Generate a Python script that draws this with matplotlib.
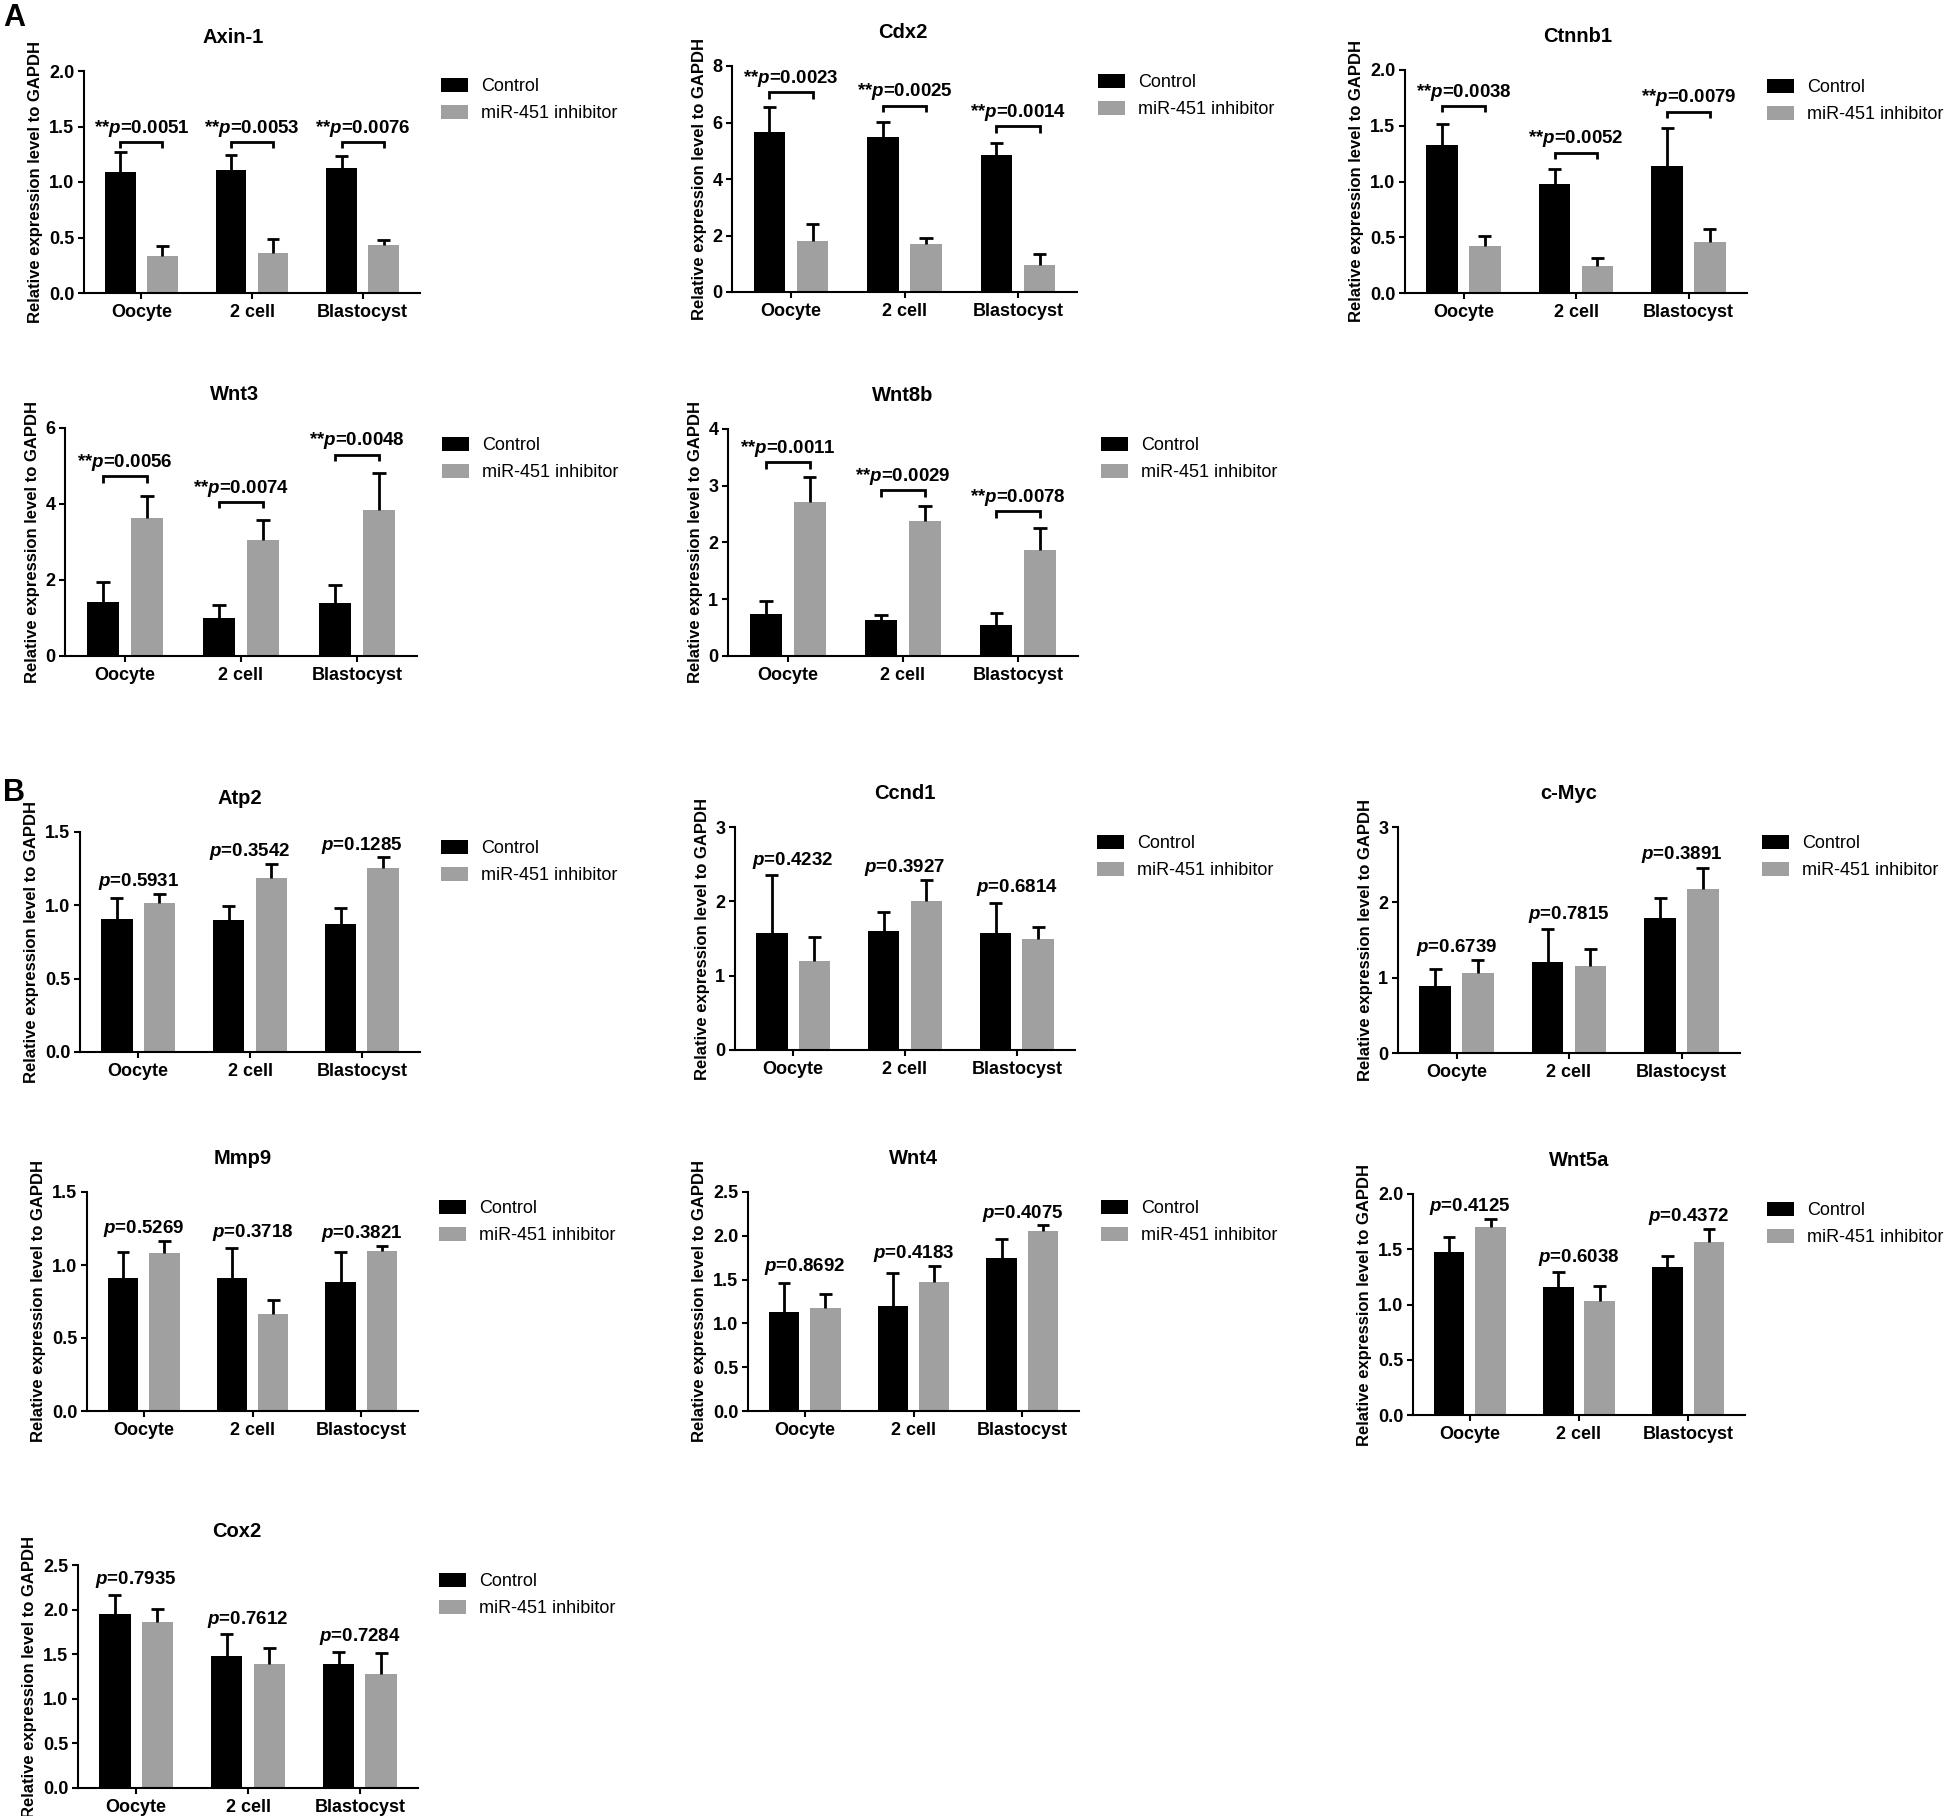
import matplotlib
matplotlib.use('Agg')
import matplotlib.pyplot as plt
import numpy as np

plt.rcParams['font.family'] = ['Liberation Sans', 'DejaVu Sans']
plt.rcParams['mathtext.fontset'] = 'custom'
plt.rcParams['mathtext.rm'] = 'Liberation Sans:bold'
plt.rcParams['mathtext.it'] = 'Liberation Sans:italic:bold'
plt.rcParams['mathtext.bf'] = 'Liberation Sans:bold'

# ---------------- data ----------------
stages = ['Oocyte', '2 cell', 'Blastocyst']
series_names = ['Control', 'miR-451 inhibitor']
ylabel_text = 'Relative expression level to GAPDH'

axin1_ctrl = [1.09, 1.105, 1.13]
axin1_ctrl_sem = [0.18, 0.135, 0.10]
axin1_inh = [0.335, 0.36, 0.434]
axin1_inh_sem = [0.085, 0.13, 0.042]
axin1_p = ['0.0051', '0.0053', '0.0076']
axin1_ann = [1.36, 1.36, 1.36]
axin1_ticks = [0.0, 0.5, 1.0, 1.5, 2.0]

cdx2_ctrl = [5.68, 5.48, 4.85]
cdx2_ctrl_sem = [0.88, 0.54, 0.42]
cdx2_inh = [1.80, 1.71, 0.95]
cdx2_inh_sem = [0.61, 0.21, 0.40]
cdx2_p = ['0.0023', '0.0025', '0.0014']
cdx2_ann = [7.07, 6.6, 5.86]
cdx2_ticks = [0, 2, 4, 6, 8]

ctnnb1_ctrl = [1.326, 0.982, 1.14]
ctnnb1_ctrl_sem = [0.19, 0.126, 0.34]
ctnnb1_inh = [0.425, 0.24, 0.458]
ctnnb1_inh_sem = [0.09, 0.074, 0.12]
ctnnb1_p = ['0.0038', '0.0052', '0.0079']
ctnnb1_ann = [1.677, 1.257, 1.626]
ctnnb1_ticks = [0.0, 0.5, 1.0, 1.5, 2.0]

wnt3_ctrl = [1.42, 1.01, 1.40]
wnt3_ctrl_sem = [0.52, 0.32, 0.47]
wnt3_inh = [3.62, 3.06, 3.84]
wnt3_inh_sem = [0.60, 0.51, 0.98]
wnt3_p = ['0.0056', '0.0074', '0.0048']
wnt3_ann = [4.73, 4.05, 5.30]
wnt3_ticks = [0, 2, 4, 6]

wnt8b_ctrl = [0.744, 0.627, 0.545]
wnt8b_ctrl_sem = [0.222, 0.093, 0.205]
wnt8b_inh = [2.71, 2.38, 1.874]
wnt8b_inh_sem = [0.44, 0.27, 0.381]
wnt8b_p = ['0.0011', '0.0029', '0.0078']
wnt8b_ann = [3.41, 2.92, 2.55]
wnt8b_ticks = [0, 1, 2, 3, 4]

atp2_ctrl = [0.909, 0.902, 0.875]
atp2_ctrl_sem = [0.143, 0.091, 0.107]
atp2_inh = [1.018, 1.189, 1.257]
atp2_inh_sem = [0.062, 0.095, 0.073]
atp2_p = ['0.5931', '0.3542', '0.1285']
atp2_ann = [1.164, 1.368, 1.41]
atp2_ticks = [0.0, 0.5, 1.0, 1.5]

ccnd1_ctrl = [1.58, 1.60, 1.58]
ccnd1_ctrl_sem = [0.77, 0.25, 0.40]
ccnd1_inh = [1.196, 2.006, 1.49]
ccnd1_inh_sem = [0.324, 0.284, 0.17]
ccnd1_p = ['0.4232', '0.3927', '0.6814']
ccnd1_ann = [2.55, 2.45, 2.18]
ccnd1_ticks = [0, 1, 2, 3]

cmyc_ctrl = [0.889, 1.212, 1.788]
cmyc_ctrl_sem = [0.231, 0.428, 0.27]
cmyc_inh = [1.066, 1.15, 2.18]
cmyc_inh_sem = [0.174, 0.235, 0.28]
cmyc_p = ['0.6739', '0.7815', '0.3891']
cmyc_ann = [1.394, 1.836, 2.63]
cmyc_ticks = [0, 1, 2, 3]

mmp9_ctrl = [0.913, 0.913, 0.886]
mmp9_ctrl_sem = [0.176, 0.206, 0.203]
mmp9_inh = [1.082, 0.667, 1.094]
mmp9_inh_sem = [0.082, 0.096, 0.036]
mmp9_p = ['0.5269', '0.3718', '0.3821']
mmp9_ann = [1.249, 1.226, 1.219]
mmp9_ticks = [0.0, 0.5, 1.0, 1.5]

wnt4_ctrl = [1.125, 1.20, 1.752]
wnt4_ctrl_sem = [0.338, 0.38, 0.216]
wnt4_inh = [1.178, 1.478, 2.055]
wnt4_inh_sem = [0.156, 0.179, 0.073]
wnt4_p = ['0.8692', '0.4183', '0.4075']
wnt4_ann = [1.645, 1.797, 2.26]
wnt4_ticks = [0.0, 0.5, 1.0, 1.5, 2.0, 2.5]

wnt5a_ctrl = [1.471, 1.157, 1.338]
wnt5a_ctrl_sem = [0.136, 0.133, 0.097]
wnt5a_inh = [1.698, 1.03, 1.568]
wnt5a_inh_sem = [0.078, 0.133, 0.118]
wnt5a_p = ['0.4125', '0.6038', '0.4372']
wnt5a_ann = [1.888, 1.426, 1.798]
wnt5a_ticks = [0.0, 0.5, 1.0, 1.5, 2.0]

cox2_ctrl = [1.946, 1.478, 1.392]
cox2_ctrl_sem = [0.217, 0.247, 0.135]
cox2_inh = [1.864, 1.392, 1.28]
cox2_inh_sem = [0.146, 0.18, 0.228]
cox2_p = ['0.7935', '0.7612', '0.7284']
cox2_ann = [2.343, 1.89, 1.695]
cox2_ticks = [0.0, 0.5, 1.0, 1.5, 2.0, 2.5]

panels = [
    ('Axin-1', axin1_ctrl, axin1_ctrl_sem, axin1_inh, axin1_inh_sem, axin1_p, axin1_ann, axin1_ticks, True),
    ('Cdx2', cdx2_ctrl, cdx2_ctrl_sem, cdx2_inh, cdx2_inh_sem, cdx2_p, cdx2_ann, cdx2_ticks, True),
    ('Ctnnb1', ctnnb1_ctrl, ctnnb1_ctrl_sem, ctnnb1_inh, ctnnb1_inh_sem, ctnnb1_p, ctnnb1_ann, ctnnb1_ticks, True),
    ('Wnt3', wnt3_ctrl, wnt3_ctrl_sem, wnt3_inh, wnt3_inh_sem, wnt3_p, wnt3_ann, wnt3_ticks, True),
    ('Wnt8b', wnt8b_ctrl, wnt8b_ctrl_sem, wnt8b_inh, wnt8b_inh_sem, wnt8b_p, wnt8b_ann, wnt8b_ticks, True),
    ('Atp2', atp2_ctrl, atp2_ctrl_sem, atp2_inh, atp2_inh_sem, atp2_p, atp2_ann, atp2_ticks, False),
    ('Ccnd1', ccnd1_ctrl, ccnd1_ctrl_sem, ccnd1_inh, ccnd1_inh_sem, ccnd1_p, ccnd1_ann, ccnd1_ticks, False),
    ('c-Myc', cmyc_ctrl, cmyc_ctrl_sem, cmyc_inh, cmyc_inh_sem, cmyc_p, cmyc_ann, cmyc_ticks, False),
    ('Mmp9', mmp9_ctrl, mmp9_ctrl_sem, mmp9_inh, mmp9_inh_sem, mmp9_p, mmp9_ann, mmp9_ticks, False),
    ('Wnt4', wnt4_ctrl, wnt4_ctrl_sem, wnt4_inh, wnt4_inh_sem, wnt4_p, wnt4_ann, wnt4_ticks, False),
    ('Wnt5a', wnt5a_ctrl, wnt5a_ctrl_sem, wnt5a_inh, wnt5a_inh_sem, wnt5a_p, wnt5a_ann, wnt5a_ticks, False),
    ('Cox2', cox2_ctrl, cox2_ctrl_sem, cox2_inh, cox2_inh_sem, cox2_p, cox2_ann, cox2_ticks, False),
]

# ---------------- layout (pixels: left, right, top, bottom, legend x, legend first-row y, title x shift) ----------------
layout = [
    (84, 420, 71, 293, 441, 89, -19),
    (732, 1077, 66, 292, 1098, 85, -2),
    (1405, 1747, 70, 293, 1767, 90, 2),
    (65, 417, 428, 656, 442, 448, -6),
    (728, 1078, 429, 656, 1101, 448, 0),
    (80, 420, 832, 1052, 441, 851, -10),
    (735, 1075, 827, 1050, 1097, 846, 0),
    (1398, 1740, 827, 1053, 1762, 846, 0),
    (87, 418, 1192, 1411, 439, 1211, -10),
    (748, 1079, 1192, 1411, 1101, 1211, 0),
    (1413, 1745, 1194, 1415, 1767, 1213, 0),
    (78, 418, 1565, 1788, 439, 1584, -11),
]

W, H = 1946, 1816
fig = plt.figure(figsize=(W / 100, H / 100), dpi=100)
fig.patch.set_facecolor('white')

BLACK = '#000000'
GRAY = '#a0a0a0'
bar_w = 0.28
off = 0.19
cap_half = 0.058
lw_err = 2.0

for (title, c, cs, i, isem, pv, ann, ticks, sig), (l, r, t, b, lx, ly, tdx) in zip(panels, layout):
    ax = fig.add_axes([l / W, 1 - b / H, (r - l) / W, (b - t) / H])
    x = np.arange(len(stages))
    bc = ax.bar(x - off, c, bar_w, color=BLACK, zorder=2)
    bi = ax.bar(x + off, i, bar_w, color=GRAY, zorder=2)
    for xs, vals, errs in ((x - off, c, cs), (x + off, i, isem)):
        vals = np.asarray(vals)
        errs = np.asarray(errs)
        ax.vlines(xs, vals, vals + errs, color='black', lw=lw_err, zorder=3)
        ax.hlines(vals + errs, xs - cap_half, xs + cap_half, color='black', lw=lw_err, zorder=3)
    for k in range(len(stages)):
        if sig:
            y0 = ann[k]
            ylen = (ticks[-1] - ticks[0]) * 0.028
            ax.plot([x[k] - off, x[k] - off, x[k] + off, x[k] + off],
                    [y0 - ylen, y0, y0, y0 - ylen], color='black', lw=lw_err,
                    solid_capstyle='butt', solid_joinstyle='miter', zorder=3, clip_on=False)
            ax.annotate(r'**$p$=' + pv[k], xy=(x[k], y0), xytext=(0, 2.5),
                        textcoords='offset points', ha='center', va='bottom',
                        fontsize=13.5, fontweight='bold', annotation_clip=False)
        else:
            ax.text(x[k], ann[k], r'$p$=' + pv[k], ha='center', va='center',
                    fontsize=13.5, fontweight='bold')
    ax.set_xlim(-0.52, 2.52)
    ax.set_ylim(ticks[0], ticks[-1])
    ax.set_yticks(ticks)
    ax.set_yticklabels([('%d' % v) if isinstance(v, int) else ('%.1f' % v) for v in ticks])
    ax.set_xticks(x)
    ax.set_xticklabels(stages)
    for s in ('top', 'right'):
        ax.spines[s].set_visible(False)
    for s in ('left', 'bottom'):
        ax.spines[s].set_linewidth(1.5)
    ax.tick_params(axis='both', direction='out', length=4, width=1.5, labelsize=13, pad=3)
    ax.tick_params(axis='x', pad=4)
    for lab in ax.get_xticklabels() + ax.get_yticklabels():
        lab.set_fontweight('bold')
    ax.set_ylabel(ylabel_text, fontsize=12, fontweight='bold', labelpad=4)
    ax.set_title(title, fontsize=14.5, fontweight='bold', pad=20, x=0.5 + tdx / (r - l))
    ax.legend([bc, bi], series_names, loc='upper left',
              bbox_to_anchor=(lx / W, 1 - (ly - 11) / H), bbox_transform=fig.transFigure,
              frameon=False, borderpad=0, borderaxespad=0, handlelength=1.5,
              handleheight=0.85, handletextpad=0.7, labelspacing=0.52, fontsize=13)

fig.text(3 / W, 1 - 3 / H, 'A', fontsize=22, fontweight='bold', ha='left', va='top')
fig.text(3 / W, 1 - 778 / H, 'B', fontsize=22, fontweight='bold', ha='left', va='top')

fig.savefig('out.png', dpi=100, facecolor='white')
